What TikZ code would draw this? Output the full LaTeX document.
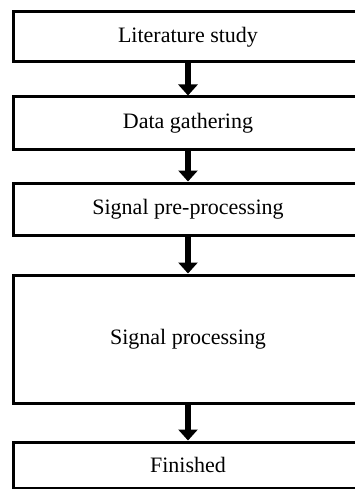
\documentclass[tikz,border=0pt]{standalone}
\usepackage{fontspec}
\setmainfont{Liberation Serif}
\usetikzlibrary{arrows.meta}
\begin{document}
\begin{tikzpicture}[x=1pt,y=-1pt,
  box/.style={draw=black, line width=3pt, fill=white, rectangle, minimum width=350pt, inner sep=0pt, font=\fontsize{22}{26}\selectfont},
  arr/.style={line width=6pt, -{Triangle[width=19pt,length=11pt]}}]
\useasboundingbox (0,0) rectangle (355,489);
\clip (0,0) rectangle (355,489);
\fill[white] (0,0) rectangle (355,489);
\node[box, minimum height=50pt] (b1) at (188,37) {Literature study};
\node[box, minimum height=53pt] (b2) at (188,123.5) {Data gathering};
\node[box, minimum height=52pt] (b3) at (188,209) {Signal pre-processing};
\node[box, minimum height=128pt] (b4) at (188,339) {Signal processing};
\node[box, minimum height=46pt] (b5) at (188,465) {Finished};
\draw[arr] (b1.south) -- (b2.north);
\draw[arr] (b2.south) -- (b3.north);
\draw[arr] (b3.south) -- (b4.north);
\draw[arr] (b4.south) -- (b5.north);
\end{tikzpicture}
\end{document}
